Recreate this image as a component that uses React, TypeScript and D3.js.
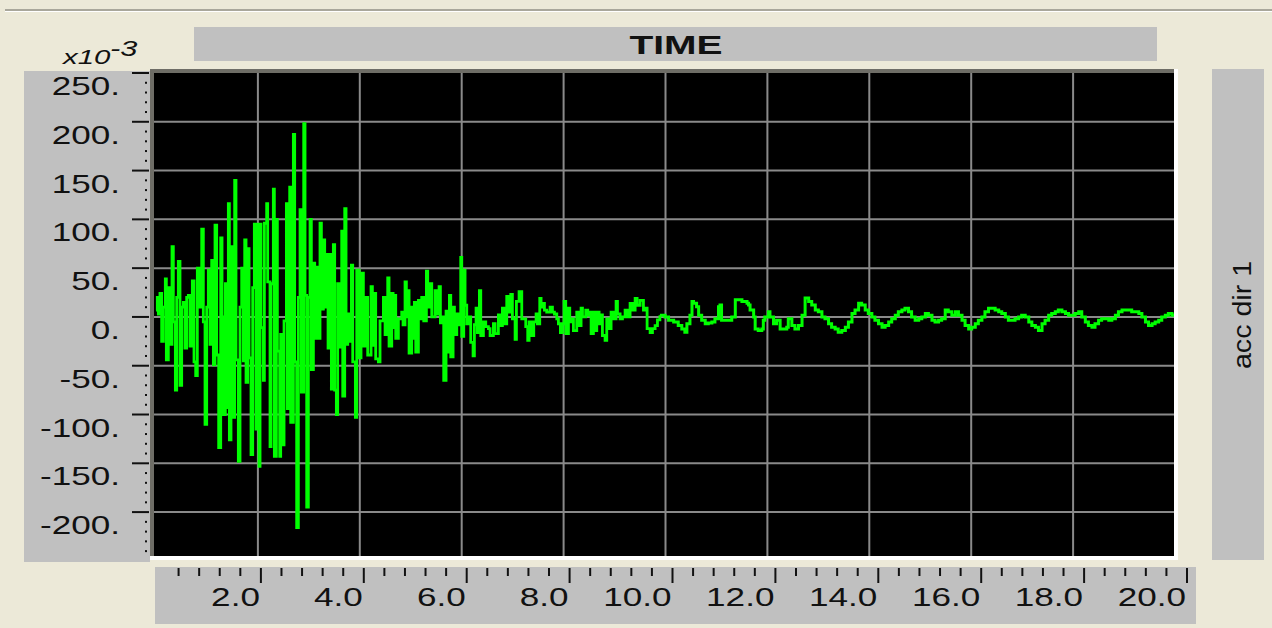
import React from "react";
import * as d3 from "d3";

// acceleration (x10^-3) vs time (s)
const strongPhase: [number, number][] = [
  [0.0, 7], [0.026, 20], [0.046, 3], [0.078, 24], [0.111, -25], [0.144, 10], [0.183, 39], [0.203, -44],
  [0.242, 30], [0.275, -28], [0.314, 72], [0.34, -5], [0.38, -75], [0.406, 20], [0.438, 57], [0.471, -70],
  [0.504, 10], [0.537, 15], [0.569, -32], [0.602, 20], [0.635, 22], [0.667, -30], [0.713, 37], [0.746, -46],
  [0.779, -60], [0.811, 50], [0.844, 10], [0.897, 90], [0.929, -5], [0.962, -110], [0.995, 10], [1.027, 48],
  [1.06, -28], [1.093, 58], [1.126, -49], [1.158, 94], [1.191, -39], [1.23, -134], [1.27, 81], [1.296, 0],
  [1.322, -100], [1.361, 34], [1.387, -93], [1.42, 116], [1.44, -126], [1.472, 72], [1.499, -103], [1.544, 140],
  [1.57, -44], [1.616, -148], [1.649, 10], [1.682, 50], [1.714, -45], [1.741, 79], [1.767, -67], [1.8, 70],
  [1.826, -42], [1.865, -141], [1.898, 30], [1.93, 95], [1.963, -115], [1.989, 95], [2.022, -153],
  [2.042, 95], [2.061, -11], [2.107, -65], [2.127, 96], [2.172, 116], [2.192, 36], [2.238, -133], [2.258, 34],
  [2.303, 131], [2.323, -143], [2.362, 100], [2.382, -35], [2.428, -143], [2.447, -18], [2.493, -131], [2.513, -4],
  [2.559, 116], [2.578, -94], [2.624, 133], [2.644, -108], [2.696, 187], [2.722, -46], [2.761, -216], [2.794, 20],
  [2.827, 110], [2.853, -77], [2.899, 198], [2.925, 22], [2.958, -195], [2.99, 20], [3.023, 100], [3.049, -54],
  [3.089, 55], [3.115, -22], [3.154, 51], [3.18, -22], [3.219, 96], [3.246, 8], [3.285, 79], [3.311, 10],
  [3.35, 64], [3.377, -32], [3.416, 64], [3.442, -74], [3.481, 74], [3.507, -75], [3.54, -100], [3.566, 34],
  [3.606, -31], [3.645, 88], [3.665, -81], [3.704, 111], [3.73, -28], [3.763, 3], [3.796, -25], [3.835, 53],
  [3.861, -46], [3.913, -103], [3.94, 48], [3.985, -42], [4.024, 45], [4.07, -30],
  [4.116, 20], [4.155, -39], [4.221, 31], [4.247, -29], [4.286, 24], [4.312, -43], [4.365, -46], [4.397, -4],
  [4.463, 20], [4.496, -18], [4.548, 40], [4.574, -30], [4.627, 24], [4.653, -11], [4.679, 22], [4.705, -22],
  [4.757, -2], [4.823, 5], [4.849, -8], [4.888, 36], [4.914, 0], [4.941, 27], [4.967, -37], [5.019, 10],
  [5.045, -22], [5.071, 15], [5.098, -36], [5.15, 17], [5.176, -2], [5.215, 20], [5.255, -4], [5.307, 47],
  [5.333, 10], [5.379, 34], [5.412, 0], [5.477, 27], [5.51, 3], [5.556, 31], [5.582, -6], [5.628, 0],
  [5.647, -65], [5.693, 6], [5.713, -36], [5.759, 22], [5.785, -41], [5.831, 10], [5.857, -18], [5.903, 3],
  [5.935, -8], [5.981, 61], [6.001, -20], [6.04, 48],
];

const codaPhase: [number, number][] = [
  [6.066, 12], [6.099, -7], [6.145, 0], [6.177, -26], [6.223, -40], [6.249, -8], [6.282, 9], [6.308, -16],
  [6.347, 27], [6.374, -19], [6.426, -5], [6.472, -10], [6.524, -12], [6.557, -19], [6.622, -7], [6.655, -17],
  [6.72, 2], [6.753, -9], [6.799, 9], [6.832, -7], [6.884, 21], [6.917, 5], [6.963, 23], [6.995, -2],
  [7.048, -23], [7.074, 16], [7.126, 26], [7.179, -2], [7.231, -2], [7.257, -10], [7.296, -24], [7.323, -5],
  [7.375, -19], [7.414, -5], [7.46, 3], [7.486, -7], [7.532, 19], [7.558, 10], [7.597, 14], [7.624, 7],
  [7.669, 5], [7.735, 10], [7.781, 5], [7.82, 3], [7.866, -2], [7.898, -7], [7.937, -16], [7.977, -7],
  [8.01, 16], [8.042, -17], [8.095, 9], [8.121, -5], [8.16, -2], [8.193, -14], [8.258, 5], [8.291, -9],
  [8.343, 9], [8.37, 0], [8.435, 7], [8.474, 2], [8.513, 5], [8.54, -17], [8.585, 5], [8.605, -14],
  [8.651, 5], [8.697, -7], [8.736, 2], [8.762, -19], [8.814, -24], [8.847, -2], [8.88, -12], [8.932, 5],
  [8.978, -2], [9.03, 16], [9.057, 3], [9.109, -2], [9.155, 0], [9.207, 7], [9.253, 0], [9.305, 14],
  [9.351, 7], [9.404, 19], [9.443, 12], [9.502, 17], [9.567, 7], [9.613, 9], [9.639, -12], [9.698, -16],
  [9.744, -12], [9.796, -9], [9.842, -3],
];

const tailPhase: [number, number][] = [
  [9.89, 1.8], [9.99, 0], [10.06, -3.5], [10.16, -5.3], [10.25, -8.8], [10.32, -12.3], [10.38, -15.8], [10.42, -7],
  [10.48, 1.8], [10.52, 15.8], [10.55, 14], [10.61, 10.5], [10.65, 1.8], [10.71, -3.5], [10.78, -7], [10.84, -6.3],
  [10.91, -5.3], [10.97, -1.8], [11.04, 10.5], [11.07, 12.3], [11.1, -3.5], [11.17, -3.5], [11.24, -3.5], [11.3, 0],
  [11.37, 17.5], [11.43, 17.5], [11.5, 15.8], [11.6, 14], [11.63, 12.3], [11.66, 7], [11.73, 0], [11.76, -12.3],
  [11.82, -14], [11.89, -12.3], [11.92, -3.5], [11.95, 0], [12.02, 5.3], [12.05, 0], [12.12, -7], [12.18, -3.5],
  [12.25, -12.3], [12.32, -12.3], [12.38, -10.5], [12.41, -1.8], [12.48, -8.8], [12.54, -12.3], [12.61, -8.8], [12.68, 1.8],
  [12.74, 19.3], [12.81, 15.8], [12.87, 12.3], [12.94, 7], [13.0, 5.3], [13.07, 0], [13.13, -1.8], [13.2, -7],
  [13.26, -10.5], [13.33, -12.3], [13.39, -15.8], [13.46, -14], [13.53, -10.5], [13.59, -5.3], [13.66, 3.5], [13.72, 7],
  [13.79, 14], [13.85, 12.3], [13.92, 7], [13.98, 3.5], [14.05, 0], [14.11, -3.5], [14.18, -7], [14.25, -10.5],
  [14.31, -8.8], [14.38, -5.3], [14.44, -1.8], [14.51, 1.8], [14.57, 5.3], [14.64, 7], [14.7, 8.8], [14.77, 5.3],
  [14.83, 0], [14.9, -3.5], [14.97, -1.8], [15.03, 0], [15.1, 3.5], [15.16, 1.8], [15.23, -3.5], [15.29, -5.3],
  [15.36, -3.5], [15.42, -1.8], [15.49, 7], [15.55, 5.3], [15.62, 1.8], [15.69, 5.3], [15.75, 1.8], [15.82, -3.5],
  [15.88, -8.8], [15.95, -12.3], [16.01, -10.5], [16.08, -7], [16.14, -3.5], [16.21, 0], [16.27, 5.3], [16.34, 8.8],
  [16.41, 8.8], [16.47, 7], [16.54, 5.3], [16.6, 3.5], [16.67, 0], [16.73, -3.5], [16.8, -3.5], [16.86, -1.8],
  [16.93, 0], [16.99, 1.8], [17.06, 0], [17.13, -5.3], [17.19, -8.8], [17.26, -10.5], [17.32, -14], [17.39, -7],
  [17.45, -3.5], [17.52, 1.8], [17.58, 3.5], [17.65, 5.3], [17.71, 7], [17.78, 5.3], [17.85, 3.5], [17.91, 1.8],
  [17.98, 1.8], [18.04, 3.5], [18.11, 5.3], [18.17, 0], [18.24, -5.3], [18.3, -8.8], [18.37, -10.5], [18.43, -7],
  [18.5, -3.5], [18.56, -1.8], [18.63, -1.8], [18.7, -3.5], [18.76, -1.8], [18.83, 1.8], [18.89, 5.3], [18.96, 7],
  [19.02, 7], [19.09, 7], [19.15, 5.3], [19.22, 5.3], [19.29, 3.5], [19.35, 0], [19.42, -5.3], [19.48, -8.8],
  [19.55, -7], [19.61, -5.3], [19.68, -3.5], [19.74, 0], [19.81, 1.8], [19.87, 3.5], [19.94, 1.8], [20.0, 3.5],
];

const yTickValues = [250, 200, 150, 100, 50, 0, -50, -100, -150, -200];
const yTickLabels = ["250.", "200.", "150.", "100.", "50.", "0.", "-50.", "-100.", "-150.", "-200."];
const xTickValues = [2, 4, 6, 8, 10, 12, 14, 16, 18, 20];
const xTickLabels = ["2.0", "4.0", "6.0", "8.0", "10.0", "12.0", "14.0", "16.0", "18.0", "20.0"];
const xTitle = "TIME";
const yTitle = "acc dir 1";
const yUnitBase = "x10";
const yUnitExp = "-3";

const W = 1272;
const H = 628;
const PLOT = { left: 154, right: 1174, top: 73, bottom: 556 };
const FONT = "'Liberation Sans', Arial, Helvetica, sans-serif";
const INK = "#111111";
const PANEL = "#c0c0c0";
const BG = "#ece9d8";

export default function App() {
  const x = d3.scaleLinear().domain([0, 20]).range([156, 1175]);
  const xAxis = d3.scaleLinear().domain([0, 20]).range([158, 1187]);
  const y = d3.scaleLinear().domain([-245, 250]).range([PLOT.bottom, PLOT.top]);

  const stepLine = d3
    .line<[number, number]>()
    .x((d) => x(d[0]))
    .y((d) => y(d[1]))
    .curve(d3.curveStepAfter);

  const early = [...strongPhase, ...codaPhase, tailPhase[0]];

  const yMinor = d3.range(-240, 250, 10).filter((v) => v % 50 !== 0);
  const xMinor = d3.range(1, 50).map((i) => i * 0.4).filter((v) => Math.abs(v / 2 - Math.round(v / 2)) > 1e-6);
  const yGrid = yTickValues.filter((v) => v < 250);
  const xGrid = xTickValues.filter((v) => v < 20);

  return (
    <svg
      width={W}
      height={H}
      viewBox={`0 0 ${W} ${H}`}
      style={{ position: "fixed", left: 0, top: 0, display: "block", background: BG }}
    >
      <rect x={0} y={0} width={W} height={H} fill={BG} />
      {/* top separator line */}
      <rect x={5} y={9} width={W - 5} height={2} fill="#a9a79b" />
      <rect x={5} y={11} width={W - 5} height={1} fill="#ffffff" />

      {/* title bar */}
      <rect x={194} y={27} width={963} height={34} fill={PANEL} />
      <text
        transform={`translate(676,54) scale(1.5,1)`}
        textAnchor="middle"
        fontFamily={FONT}
        fontWeight="bold"
        fontSize={26}
        fill={INK}
      >
        {xTitle}
      </text>

      {/* unit label */}
      <text transform="translate(63,64) scale(1.4,1)" fontFamily={FONT} fontStyle="italic" fontSize={21} fill={INK}>
        {yUnitBase}
      </text>
      <text transform="translate(110,56) scale(1.4,1)" fontFamily={FONT} fontStyle="italic" fontSize={22} fill={INK}>
        {yUnitExp}
      </text>

      {/* left axis panel */}
      <rect x={24} y={71} width={126} height={491} fill={PANEL} />
      {yTickValues.map((v, i) => (
        <g key={`yt${v}`}>
          <line x1={132} x2={149} y1={y(v)} y2={y(v)} stroke={INK} strokeWidth={2} />
          <text
            transform={`translate(120,${y(v) + 22}) scale(1.35,1)`}
            textAnchor="end"
            fontFamily={FONT}
            fontSize={26}
            fill={INK}
          >
            {yTickLabels[i]}
          </text>
        </g>
      ))}
      {yMinor.map((v) => (
        <rect key={`ym${v}`} x={145} y={y(v) - 1} width={2} height={2} fill={INK} />
      ))}

      {/* plot frame (sunken) */}
      <rect x={150} y={69} width={1028} height={491} fill="#ffffff" />
      <rect x={150} y={69} width={1024} height={487} fill="#6e6d66" />
      <rect x={PLOT.left} y={PLOT.top} width={PLOT.right - PLOT.left} height={PLOT.bottom - PLOT.top} fill="#000" />
      <defs>
        <clipPath id="plotClip">
          <rect x={PLOT.left} y={PLOT.top} width={PLOT.right - PLOT.left} height={PLOT.bottom - PLOT.top} />
        </clipPath>
      </defs>
      <g clipPath="url(#plotClip)">
        {yGrid.map((v) => (
          <line key={`yg${v}`} x1={PLOT.left} x2={PLOT.right} y1={y(v)} y2={y(v)} stroke="#8a8a8a" strokeWidth={2} />
        ))}
        {xGrid.map((v) => (
          <line key={`xg${v}`} x1={x(v)} x2={x(v)} y1={PLOT.top} y2={PLOT.bottom} stroke="#8a8a8a" strokeWidth={2} />
        ))}
        <path d={stepLine(early) ?? ""} fill="none" stroke="#00ff00" strokeWidth={2.8} />
        <path d={stepLine(tailPhase) ?? ""} fill="none" stroke="#00ff00" strokeWidth={3} />
      </g>

      {/* right label panel */}
      <rect x={1212} y={69} width={52} height={491} fill={PANEL} />
      <text
        transform="translate(1251,315) rotate(-90) scale(1.1,1)"
        textAnchor="middle"
        fontFamily={FONT}
        fontSize={26}
        fill={INK}
      >
        {yTitle}
      </text>

      {/* bottom axis panel */}
      <rect x={155} y={567} width={1041} height={57} fill={PANEL} />
      {xMinor.map((v) => (
        <line key={`xm${v}`} x1={xAxis(v)} x2={xAxis(v)} y1={568} y2={576} stroke={INK} strokeWidth={2} />
      ))}
      {xTickValues.map((v, i) => (
        <g key={`xt${v}`}>
          <line x1={xAxis(v)} x2={xAxis(v)} y1={568} y2={583} stroke={INK} strokeWidth={2} />
          <text
            transform={`translate(${xAxis(v) - 1},606) scale(1.35,1)`}
            textAnchor="end"
            fontFamily={FONT}
            fontSize={26}
            fill={INK}
          >
            {xTickLabels[i]}
          </text>
        </g>
      ))}
    </svg>
  );
}
